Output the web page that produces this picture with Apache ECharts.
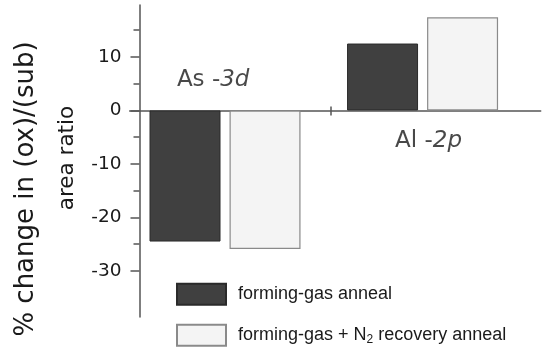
<!DOCTYPE html>
<html><head><meta charset="utf-8">
<script src="https://cdn.jsdelivr.net/npm/echarts@6/dist/echarts.min.js"></script>
<style>html,body{margin:0;padding:0;background:#fff}#c{width:542px;height:349px}</style>
</head><body><div id="c"></div>
<script>
// ---- data ----
const categoryMain = ['As -', 'Al -'];
const categoryOrbital = ['3d', '2p'];
const categoryX = [0, 1];
const seriesNames = ['forming-gas anneal', 'forming-gas + N2 recovery anneal'];
const legendLabels = ['forming-gas anneal', 'forming-gas + N{sub|2} recovery anneal'];
const formingGas = [-24.5, 12.5];
const recoveryAnneal = [-25.9, 17.4];
const yMajorTicks = [-30, -20, -10, 0, 10];
const yMinorTicks = [-25, -15, -5, 5, 15];
const categoryBoundary = [0.535];
const categoryLabelPos = [[-0.06, 5.7], [1.03, -5.7]];

const FONT = 'Liberation Sans, Arial, sans-serif';
const WIDE = 'DejaVu Sans, sans-serif';
const AX = '#555';
const TXT = '#1a1a1a';
const yMin = -38.6, yMax = 19.7, xMin = -0.4825, xMax = 1.598;

const chart = echarts.init(document.getElementById('c'));
const commonY = {
  type: 'value', min: yMin, max: yMax, position: 'left', offset: -9.8,
  splitLine: {show: false},
  nameLocation: 'middle'
};
chart.setOption({
  animation: false,
  grid: {left: 129.7, right: 1.3, top: 5, bottom: 32, outerBoundsMode: 'none'},
  xAxis: [
    {type: 'value', min: xMin, max: xMax, position: 'bottom',
     axisLine: {show: true, onZero: true, lineStyle: {color: AX, width: 1.5}},
     axisTick: {show: true, customValues: categoryBoundary, length: 5, lineStyle: {color: AX, width: 1.5}},
     axisLabel: {show: false}, splitLine: {show: false}},
    {type: 'value', min: xMin, max: xMax, position: 'top',
     axisLine: {show: false, onZero: true},
     axisTick: {show: true, customValues: categoryBoundary, length: 4, lineStyle: {color: AX, width: 1.5}},
     axisLabel: {show: false}, splitLine: {show: false}}
  ],
  yAxis: [
    Object.assign({}, commonY, {
      name: '% change in (ox)/(sub)', nameGap: 100.5,
      nameTextStyle: {fontSize: 26, color: TXT, fontFamily: WIDE, padding: [0, 56, 0, 0]},
      axisLine: {show: true, onZero: false, lineStyle: {color: AX, width: 1.5}},
      axisTick: {show: true, customValues: yMajorTicks, length: 9, lineStyle: {color: AX, width: 1.5}},
      axisLabel: {show: true, customValues: yMajorTicks, margin: 18, fontSize: 18.5, color: TXT, fontFamily: WIDE}
    }),
    Object.assign({}, commonY, {
      name: 'area ratio', nameGap: 61.5,
      nameTextStyle: {fontSize: 21.5, color: TXT, fontFamily: WIDE, padding: [0, 0, 0, 6]},
      axisLine: {show: false, onZero: false},
      axisTick: {show: true, customValues: yMinorTicks, length: 6, lineStyle: {color: AX, width: 1.5}},
      axisLabel: {show: false}
    })
  ],
  legend: {
    data: seriesNames, orient: 'vertical', left: 176, top: 282.7, height: 120, padding: 0, icon: 'rect',
    itemWidth: 49, itemHeight: 21, itemGap: 18,
    formatter: name => legendLabels[seriesNames.indexOf(name)],
    textStyle: {fontSize: 18, color: TXT, fontFamily: FONT, padding: [0, 0, 0, 7],
      rich: {sub: {fontSize: 12, fontFamily: FONT, color: TXT, padding: [8, 0, 0, 0]}}}
  },
  series: [
    {name: seriesNames[0], type: 'bar', xAxisIndex: 0, yAxisIndex: 0,
     data: categoryX.map((x, i) => [x, formingGas[i]]),
     barWidth: 71, barGap: '12.7%',
     itemStyle: {color: '#404040', borderColor: '#2a2a2a', borderWidth: 1}},
    {name: seriesNames[1], type: 'bar', xAxisIndex: 0, yAxisIndex: 0,
     data: categoryX.map((x, i) => [x, recoveryAnneal[i]]),
     barWidth: 71, barGap: '12.7%',
     itemStyle: {color: '#f4f4f4', borderColor: '#8a8a8a', borderWidth: 1.2}},
    {type: 'scatter', xAxisIndex: 0, yAxisIndex: 0, symbolSize: 0, silent: true,
     data: categoryLabelPos,
     label: {show: true, position: 'inside', color: TXT,
       formatter: p => '{n|' + categoryMain[p.dataIndex] + '}{i|' + categoryOrbital[p.dataIndex] + '}',
       rich: {n: {fontSize: 23, color: TXT, fontFamily: WIDE},
              i: {fontSize: 23, color: TXT, fontFamily: WIDE, fontStyle: 'italic'}}}}
  ]
});
</script></body></html>
